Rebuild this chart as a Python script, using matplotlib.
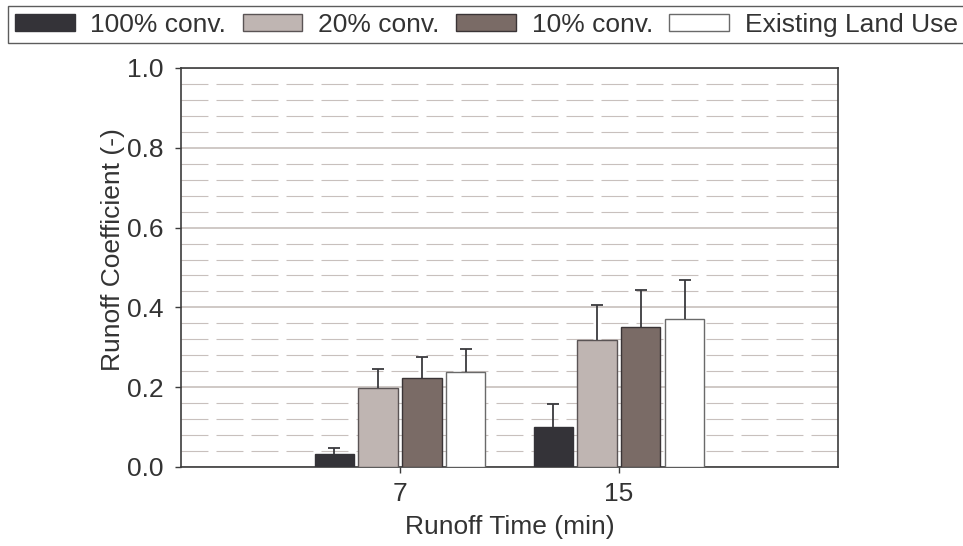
import numpy as np
import matplotlib
matplotlib.use('Agg')
import matplotlib.pyplot as plt
from matplotlib.ticker import MultipleLocator, FormatStrFormatter

plt.rcParams['font.family'] = ['Liberation Sans', 'DejaVu Sans']
plt.rcParams['lines.scale_dashes'] = False

times = ['7', '15']
series = ['100% conv.', '20% conv.', '10% conv.', 'Existing Land Use']
means = {
    '100% conv.': [0.032, 0.099],
    '20% conv.': [0.197, 0.318],
    '10% conv.': [0.222, 0.352],
    'Existing Land Use': [0.239, 0.371],
}
upper_err = {
    '100% conv.': [0.015, 0.060],
    '20% conv.': [0.048, 0.088],
    '10% conv.': [0.053, 0.092],
    'Existing Land Use': [0.056, 0.098],
}

fills = ['#343338', '#bfb5b2', '#7a6b66', '#ffffff']
edges = ['#343338', '#5a5455', '#3a3436', '#6a6a6a']
text_col = '#333333'
FS = 19

fig = plt.figure(figsize=(9.63, 5.46), dpi=100)
ax = fig.add_axes([0.188, 0.1447, 0.682, 0.7308])

x = np.arange(len(times))
width = 0.18
offsets = [-0.3, -0.1, 0.1, 0.3]
handles = []
for name, off, fc, ec in zip(series, offsets, fills, edges):
    vals = means[name]
    b = ax.bar(x + off, vals, width, color=fc, edgecolor=ec, linewidth=1.0, zorder=3, label=name)
    eb = ax.errorbar(x + off, vals, yerr=[np.zeros(len(vals)), upper_err[name]], fmt='none',
                     ecolor='#3a3a3e', elinewidth=1.3, capsize=4.3, capthick=1.3, zorder=4)
    # only the upper cap is shown
    eb[1][0].set_visible(False)
    handles.append(b)

ax.set_xlim(-1, 2)
ax.set_ylim(0, 1.0)
ax.set_xticks(x)
ax.set_xticklabels(times)
ax.yaxis.set_major_locator(MultipleLocator(0.2))
ax.yaxis.set_minor_locator(MultipleLocator(0.04))
ax.yaxis.set_major_formatter(FormatStrFormatter('%.1f'))

ax.grid(which='major', axis='y', color='#c2bab7', linewidth=1.1, zorder=0)
ax.grid(which='minor', axis='y', color='#c8c0bd', linewidth=0.8, linestyle=(0, (19.4, 5.8)), zorder=0)
ax.set_axisbelow(True)

for s in ax.spines.values():
    s.set_color('#3c3c3c')
    s.set_linewidth(1.2)

ax.tick_params(axis='both', which='major', labelsize=FS, colors=text_col, direction='out',
               length=4.5, width=1.0, color='#3c3c3c')
ax.tick_params(axis='y', which='minor', length=0)
ax.tick_params(axis='x', pad=6)
ax.tick_params(axis='y', pad=8)

ax.set_xlabel('Runoff Time (min)', fontsize=FS, color=text_col, labelpad=7)
ax.set_ylabel('Runoff Coefficient (-)', fontsize=FS, color=text_col)
ax.yaxis.set_label_coords(-0.086, 0.544)

leg = fig.legend(handles=handles, labels=series, loc='upper left', bbox_to_anchor=(8 / 963, 1 - 6 / 546),
                 ncol=4, fontsize=FS, handlelength=2.27, handleheight=0.64, handletextpad=0.6,
                 columnspacing=0.62, borderaxespad=0, borderpad=0.25, fancybox=False, frameon=True,
                 edgecolor='#333333', labelcolor=text_col)
leg.get_frame().set_linewidth(1.0)

fig.savefig('out.png', dpi=100)
